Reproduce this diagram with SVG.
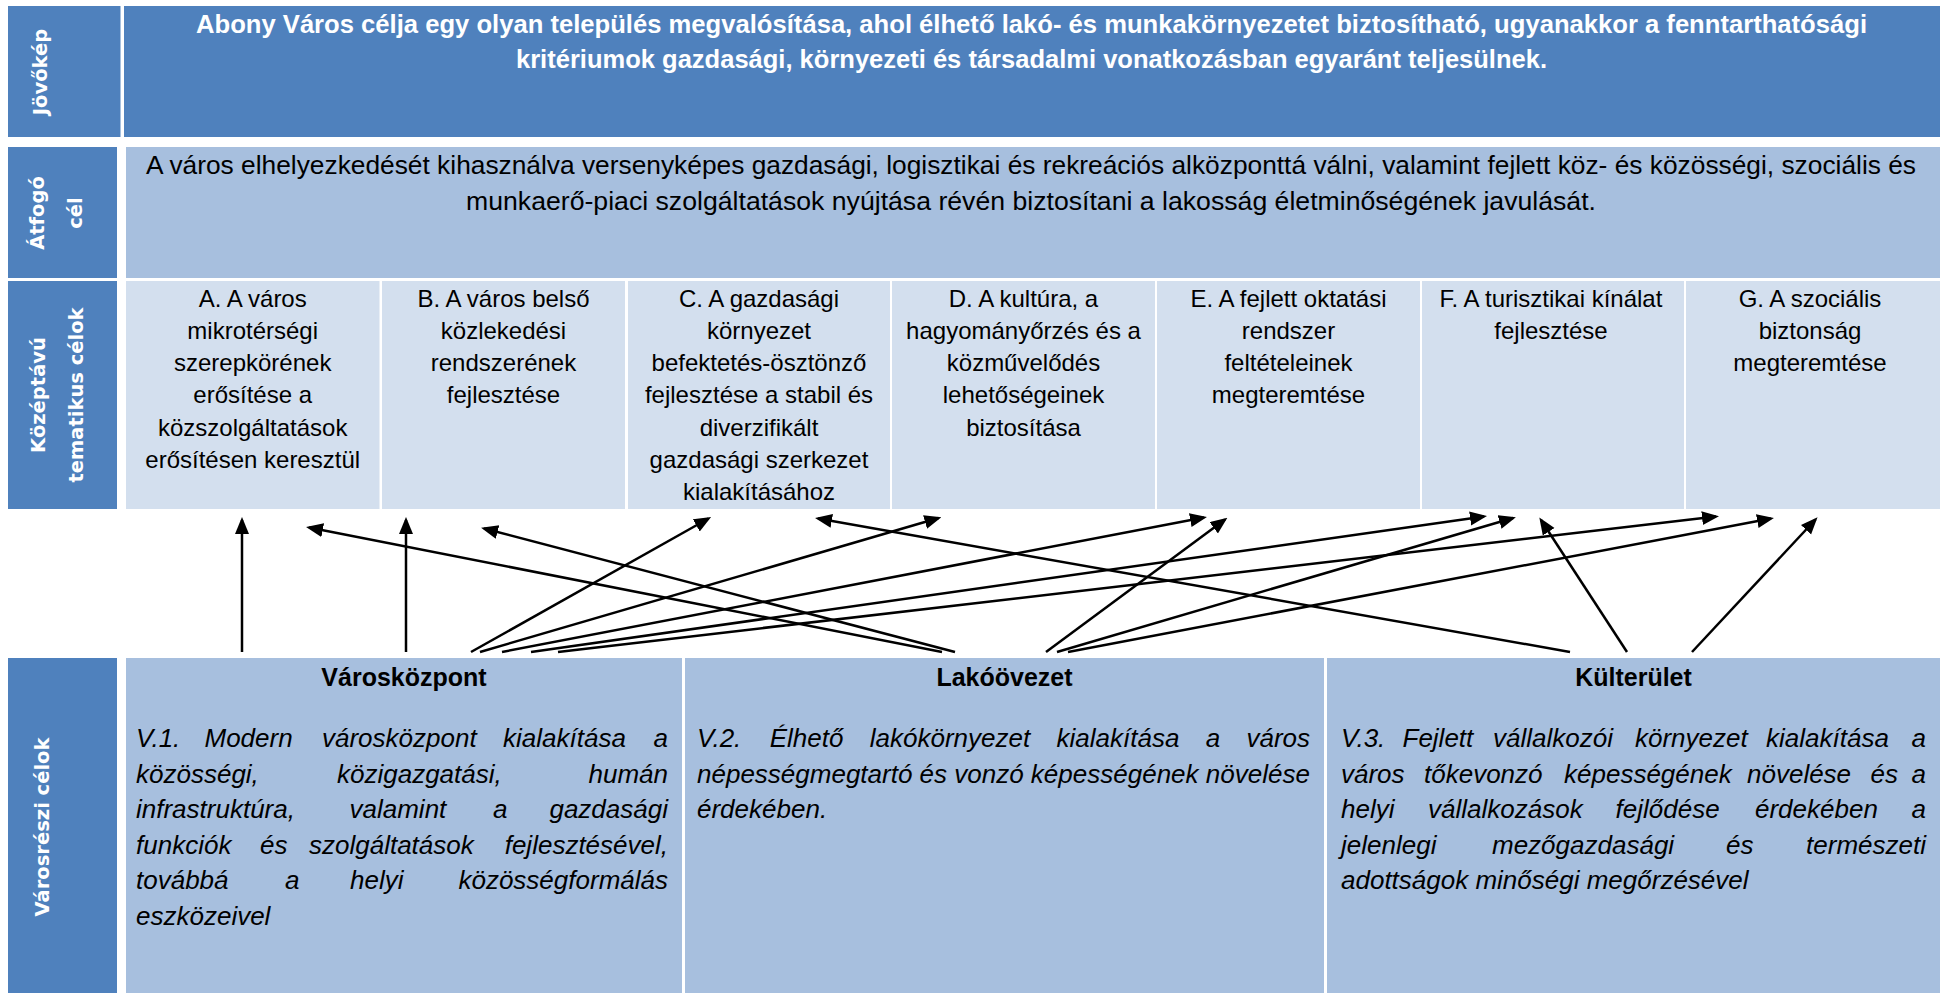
<svg xmlns="http://www.w3.org/2000/svg" width="1943" height="993" viewBox="0 0 1943 993">
<style>
.dark{fill:#4F81BD}
.mid{fill:#A7BFDE}
.pale{fill:#D3DFEE}
.lbl{font-family:"DejaVu Sans",Verdana,sans-serif;font-weight:bold;font-size:19.5px;fill:#fff;text-anchor:middle}
.title{font-family:"Liberation Sans",Arial,sans-serif;font-weight:bold;font-size:25px;fill:#fff}
.goal{font-family:"Liberation Sans",Arial,sans-serif;font-size:25px;fill:#000}
.cell{font-family:"Liberation Sans",Arial,sans-serif;font-size:24px;fill:#000;text-anchor:middle}
.hdr{font-family:"Liberation Sans",Arial,sans-serif;font-weight:bold;font-size:25px;fill:#000;text-anchor:middle}
.par{font-family:"Liberation Sans",Arial,sans-serif;font-style:italic;font-size:26px;fill:#000}
.e{text-anchor:end}
.conn line{stroke:#000;stroke-width:2.5;fill:none;marker-end:url(#ah)}
</style>
<defs>
<marker id="ah" markerUnits="userSpaceOnUse" markerWidth="17" markerHeight="15" refX="14" refY="7" orient="auto">
<path d="M0,0 L17,7 L0,14 Z" fill="#000"/>
</marker>
</defs>
<rect width="1943" height="993" fill="#fff"/>

<g id="jovokep">
<rect class="dark" x="8" y="6" width="112.5" height="131"/>
<text class="lbl" transform="translate(47,72) rotate(-90)">Jövőkép</text>
<rect class="dark" x="124" y="6" width="1816" height="131"/>
<text class="title" x="196" y="33" textLength="1671" lengthAdjust="spacingAndGlyphs">Abony Város célja egy olyan település megvalósítása, ahol élhető lakó- és munkakörnyezetet biztosítható, ugyanakkor a fenntarthatósági</text>
<text class="title" x="516" y="68" textLength="1031" lengthAdjust="spacingAndGlyphs">kritériumok gazdasági, környezeti és társadalmi vonatkozásban egyaránt teljesülnek.</text>
</g>

<g id="atfogo-cel">
<rect class="dark" x="8" y="147" width="109" height="131"/>
<text class="lbl" transform="translate(44,213) rotate(-90)">Átfogó</text>
<text class="lbl" transform="translate(82,213) rotate(-90)">cél</text>
<rect class="mid" x="126" y="147" width="1814" height="131"/>
<text class="goal" x="146" y="173.5" textLength="1770" lengthAdjust="spacingAndGlyphs">A város elhelyezkedését kihasználva versenyképes gazdasági, logisztikai és rekreációs alközponttá válni, valamint fejlett köz- és közösségi, szociális és</text>
<text class="goal" x="466" y="209.5" textLength="1130" lengthAdjust="spacingAndGlyphs">munkaerő-piaci szolgáltatások nyújtása révén biztosítani a lakosság életminőségének javulását.</text>
</g>

<g id="kozeptavu-label">
<rect class="dark" x="8" y="281" width="109" height="228"/>
<text class="lbl" transform="translate(44.5,395) rotate(-90)">Középtávú</text>
<text class="lbl" transform="translate(82.5,395) rotate(-90)">tematikus célok</text>
</g>

<g id="cel-A">
<rect class="pale" x="126" y="281" width="253.5" height="228"/>
<text class="cell" x="252.7" y="306.5">A. A város</text>
<text class="cell" x="252.7" y="338.8">mikrotérségi</text>
<text class="cell" x="252.7" y="371.1">szerepkörének</text>
<text class="cell" x="252.7" y="403.4">erősítése a</text>
<text class="cell" x="252.7" y="435.7">közszolgáltatások</text>
<text class="cell" x="252.7" y="468">erősítésen keresztül</text>
</g>
<g id="cel-B">
<rect class="pale" x="382" y="281" width="243" height="228"/>
<text class="cell" x="503.5" y="306.5">B. A város belső</text>
<text class="cell" x="503.5" y="338.8">közlekedési</text>
<text class="cell" x="503.5" y="371.1">rendszerének</text>
<text class="cell" x="503.5" y="403.4">fejlesztése</text>
</g>
<g id="cel-C">
<rect class="pale" x="628" y="281" width="262" height="228"/>
<text class="cell" x="759" y="306.5">C. A gazdasági</text>
<text class="cell" x="759" y="338.8">környezet</text>
<text class="cell" x="759" y="371.1">befektetés-ösztönző</text>
<text class="cell" x="759" y="403.4">fejlesztése a stabil és</text>
<text class="cell" x="759" y="435.7">diverzifikált</text>
<text class="cell" x="759" y="468">gazdasági szerkezet</text>
<text class="cell" x="759" y="500.3">kialakításához</text>
</g>
<g id="cel-D">
<rect class="pale" x="892" y="281" width="263" height="228"/>
<text class="cell" x="1023.5" y="306.5">D. A kultúra, a</text>
<text class="cell" x="1023.5" y="338.8">hagyományőrzés és a</text>
<text class="cell" x="1023.5" y="371.1">közművelődés</text>
<text class="cell" x="1023.5" y="403.4">lehetőségeinek</text>
<text class="cell" x="1023.5" y="435.7">biztosítása</text>
</g>
<g id="cel-E">
<rect class="pale" x="1157" y="281" width="263" height="228"/>
<text class="cell" x="1288.5" y="306.5">E. A fejlett oktatási</text>
<text class="cell" x="1288.5" y="338.8">rendszer</text>
<text class="cell" x="1288.5" y="371.1">feltételeinek</text>
<text class="cell" x="1288.5" y="403.4">megteremtése</text>
</g>
<g id="cel-F">
<rect class="pale" x="1422" y="281" width="262" height="228"/>
<text class="cell" x="1551" y="306.5">F. A turisztikai kínálat</text>
<text class="cell" x="1551" y="338.8">fejlesztése</text>
</g>
<g id="cel-G">
<rect class="pale" x="1686" y="281" width="254" height="228"/>
<text class="cell" x="1810" y="306.5">G. A szociális</text>
<text class="cell" x="1810" y="338.8">biztonság</text>
<text class="cell" x="1810" y="371.1">megteremtése</text>
</g>

<g id="varosreszi-label">
<rect class="dark" x="8" y="658" width="109" height="335"/>
<text class="lbl" transform="translate(49,827) rotate(-90)">Városrészi célok</text>
</g>

<g id="varoskozpont">
<rect class="mid" x="126" y="658" width="556" height="335"/>
<text class="hdr" x="404" y="686">Városközpont</text>
<text class="par" x="136" y="747">V.1.</text>
<text class="par" x="204.5" y="747">Modern</text>
<text class="par" x="322" y="747">városközpont</text>
<text class="par" x="503" y="747">kialakítása</text>
<text class="par e" x="668" y="747">a</text>
<text class="par" x="136" y="782.5">közösségi,</text>
<text class="par" x="337" y="782.5">közigazgatási,</text>
<text class="par e" x="668" y="782.5">humán</text>
<text class="par" x="136" y="818">infrastruktúra,</text>
<text class="par" x="349.5" y="818">valamint</text>
<text class="par" x="493" y="818">a</text>
<text class="par e" x="668" y="818">gazdasági</text>
<text class="par" x="136" y="853.5">funkciók</text>
<text class="par" x="260" y="853.5">és</text>
<text class="par" x="309" y="853.5">szolgáltatások</text>
<text class="par e" x="668" y="853.5">fejlesztésével,</text>
<text class="par" x="136" y="889">továbbá</text>
<text class="par" x="285" y="889">a</text>
<text class="par" x="350" y="889">helyi</text>
<text class="par e" x="668" y="889">közösségformálás</text>
<text class="par" x="136" y="924.5">eszközeivel</text>
</g>

<g id="lakoovezet">
<rect class="mid" x="685" y="658" width="639" height="335"/>
<text class="hdr" x="1004.5" y="686">Lakóövezet</text>
<text class="par" x="697" y="747">V.2.</text>
<text class="par" x="769.7" y="747">Élhető</text>
<text class="par" x="869.8" y="747">lakókörnyezet</text>
<text class="par" x="1056.6" y="747">kialakítása</text>
<text class="par" x="1205.8" y="747">a</text>
<text class="par e" x="1310" y="747">város</text>
<text class="par" x="697" y="782.5">népességmegtartó és vonzó képességének növelése</text>
<text class="par" x="697" y="818">érdekében.</text>
</g>

<g id="kulterulet">
<rect class="mid" x="1327" y="658" width="613" height="335"/>
<text class="hdr" x="1633.5" y="686">Külterület</text>
<text class="par" x="1341" y="747">V.3.</text>
<text class="par" x="1402.5" y="747">Fejlett</text>
<text class="par" x="1493" y="747">vállalkozói</text>
<text class="par" x="1635" y="747">környezet</text>
<text class="par" x="1766" y="747">kialakítása</text>
<text class="par e" x="1926" y="747">a</text>
<text class="par" x="1341" y="782.5">város</text>
<text class="par" x="1424" y="782.5">tőkevonzó</text>
<text class="par" x="1564" y="782.5">képességének</text>
<text class="par" x="1747" y="782.5">növelése</text>
<text class="par" x="1870.5" y="782.5">és</text>
<text class="par e" x="1926" y="782.5">a</text>
<text class="par" x="1341" y="818">helyi</text>
<text class="par" x="1428" y="818">vállalkozások</text>
<text class="par" x="1615.6" y="818">fejlődése</text>
<text class="par" x="1755" y="818">érdekében</text>
<text class="par e" x="1926" y="818">a</text>
<text class="par" x="1341" y="853.5">jelenlegi</text>
<text class="par" x="1492" y="853.5">mezőgazdasági</text>
<text class="par" x="1726" y="853.5">és</text>
<text class="par e" x="1926" y="853.5">természeti</text>
<text class="par" x="1341" y="889">adottságok minőségi megőrzésével</text>
</g>

<g id="connectors" class="conn">
<line x1="242" y1="652" x2="242" y2="520"/>
<line x1="406" y1="652" x2="406" y2="520"/>
<line x1="942" y1="652" x2="309" y2="527.5"/>
<line x1="955" y1="652" x2="484" y2="528.5"/>
<line x1="471" y1="652" x2="708.5" y2="518.5"/>
<line x1="1570" y1="652" x2="818" y2="518.5"/>
<line x1="480" y1="652" x2="938.5" y2="518"/>
<line x1="502" y1="652" x2="1204" y2="517.5"/>
<line x1="1046" y1="652" x2="1225" y2="519.5"/>
<line x1="531" y1="652" x2="1484" y2="516.5"/>
<line x1="1057" y1="652" x2="1513" y2="518"/>
<line x1="1627" y1="652" x2="1541" y2="520"/>
<line x1="558" y1="652" x2="1716" y2="516.5"/>
<line x1="1068" y1="652" x2="1771" y2="518.5"/>
<line x1="1692" y1="652" x2="1815.5" y2="519.5"/>
</g>
</svg>
